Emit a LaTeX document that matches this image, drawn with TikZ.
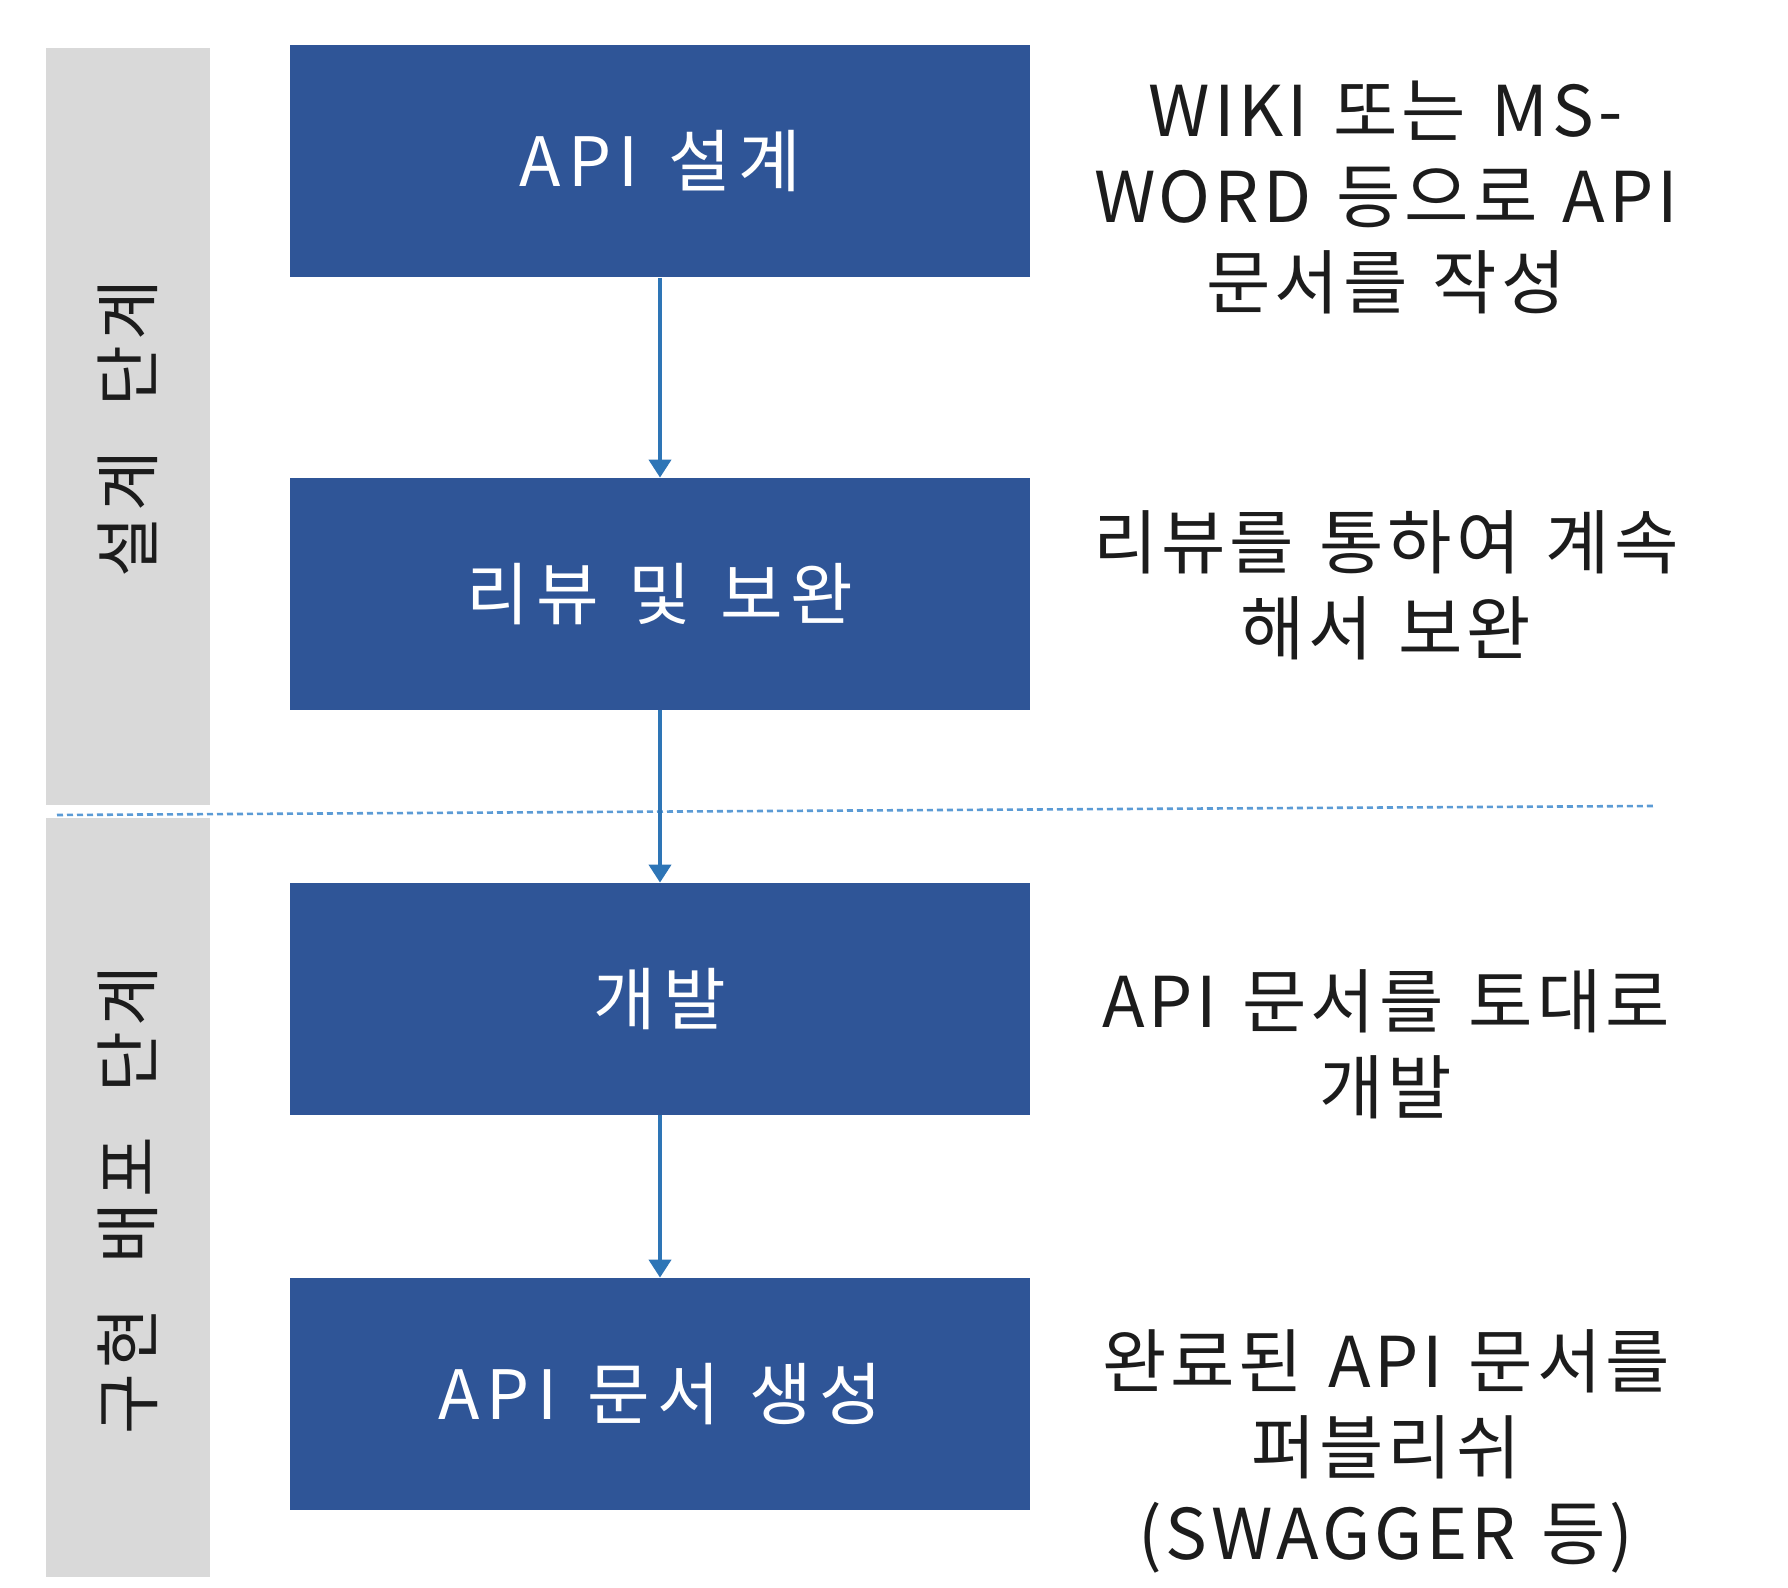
\documentclass[tikz,border=0pt]{standalone}
\usepackage{fontspec}
\setmainfont{Noto Sans CJK KR}
\newfontfamily\boxfont[WordSpace=1.3,LetterSpace=11]{Noto Sans CJK KR}
\newfontfamily\notefont[WordSpace=1.3,LetterSpace=5.5]{Noto Sans CJK KR}
\newfontfamily\labelfont[WordSpace=2.2,LetterSpace=8]{Noto Sans CJK KR}
\usetikzlibrary{arrows.meta}
\definecolor{boxblue}{RGB}{47,85,151}
\definecolor{bargray}{RGB}{217,217,217}
\definecolor{arrowblue}{RGB}{46,117,182}
\definecolor{dotblue}{RGB}{91,155,213}
\definecolor{txtcol}{RGB}{28,28,28}
\begin{document}
\begin{tikzpicture}[x=0.5pt,y=-0.5pt,
  stagebox/.style={fill=boxblue, draw=none, minimum width=370pt, minimum height=116pt,
    inner sep=0pt, text=white, font=\boxfont\fontsize{34}{40}\selectfont},
  phasebar/.style={fill=bargray, draw=none, minimum width=82pt, inner sep=0pt},
  phaselabel/.style={rotate=90, text=txtcol, font=\labelfont\fontsize{33}{40}\selectfont, inner sep=0pt},
  note/.style={align=center, text=txtcol, font=\notefont\fontsize{35}{43}\selectfont, inner sep=0pt},
  flow/.style={draw=arrowblue, line width=2pt, -{Triangle[width=11pt,length=9pt]}},
  divider/.style={draw=dotblue, line width=1.3pt, dash pattern=on 3pt off 2pt}]
\useasboundingbox (0,0) rectangle (1788,1588);
\fill[white] (0,0) rectangle (1788,1588);
% phase bars
\node[phasebar, minimum height=378.5pt] (bar1) at (128,426.5) {};
\node[phasebar, minimum height=379.5pt] (bar2) at (128,1197.5) {};
\node[phaselabel] (lab1) at (128,429) {설계 단계};
\node[phaselabel] (lab2) at (128,1200) {구현 배포 단계};
% divider
\coordinate (dl) at (57,815);
\coordinate (dr) at (1653,806);
\draw[divider] (dl) -- (dr);
% stages
\node[stagebox] (s1) at (660,161.5) {API 설계};
\node[stagebox] (s2) at (660,594) {리뷰 및 보완};
\node[stagebox] (s3) at (660,999) {개발};
\node[stagebox] (s4) at (660,1394) {API 문서 생성};
\draw[flow] (s1) -- (s2);
\draw[flow] (s2) -- (s3);
\draw[flow] (s3) -- (s4);
% notes
\node[note] (n1) at (1386,197) {WIKI 또는 MS-\\WORD 등으로 API\\문서를 작성};
\node[note] (n2) at (1386,585) {리뷰를 통하여 계속\\해서 보완};
\node[note] (n3) at (1386,1044) {API 문서를 토대로\\개발};
\node[note] (n4) at (1386,1451) {완료된 API 문서를\\퍼블리쉬\\(SWAGGER 등)};
\end{tikzpicture}
\end{document}
